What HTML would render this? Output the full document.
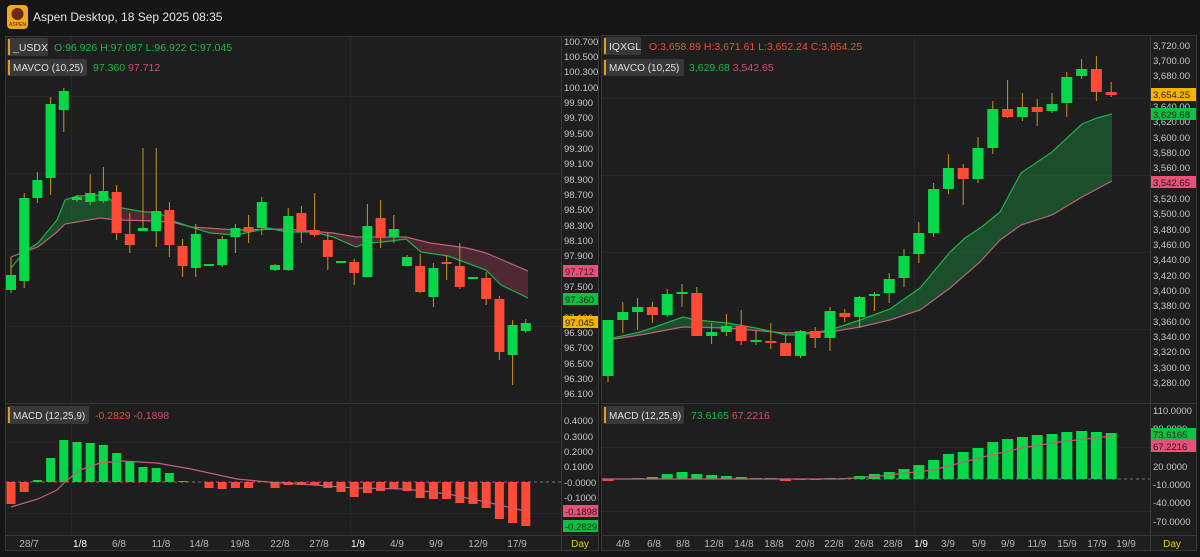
<!DOCTYPE html>
<html><head><meta charset="utf-8"><style>
html,body{margin:0;padding:0;background:#161616;width:1200px;height:557px;overflow:hidden}
svg{display:block}
text{font-family:"Liberation Sans",sans-serif}
</style></head><body>
<svg id="s" width="1200" height="557" xmlns="http://www.w3.org/2000/svg">
<rect x="0" y="0" width="1200" height="557" fill="#161616"/>
<rect x="7" y="5" width="21" height="24" rx="4" fill="#f2a81d"/>
<circle cx="17.5" cy="14" r="6" fill="#6b2a1a"/>
<text x="17.5" y="26" font-size="5" fill="#5a1a0a" text-anchor="middle">ASPEN</text>
<text x="33" y="21" font-size="12" fill="#e6e6e6">Aspen Desktop, 18 Sep 2025 08:35</text>
<rect x="5.5" y="36.5" width="593" height="514" fill="#1e1e1e" stroke="#383838"/>
<rect x="601.5" y="35.5" width="595" height="515" fill="#1e1e1e" stroke="#383838"/>
<g stroke="#383838" stroke-width="1">
<line x1="561.5" y1="36" x2="561.5" y2="551"/>
<line x1="6" y1="403.5" x2="598" y2="403.5"/>
<line x1="6" y1="535.5" x2="598" y2="535.5"/>
<line x1="1150.5" y1="36" x2="1150.5" y2="551"/>
<line x1="602" y1="403.5" x2="1196" y2="403.5"/>
<line x1="602" y1="535.5" x2="1196" y2="535.5"/>
</g>
<g stroke="#262626" stroke-width="1">
<line x1="71.5" y1="37" x2="71.5" y2="535"/><line x1="350.5" y1="37" x2="350.5" y2="535"/>
<line x1="914.5" y1="36" x2="914.5" y2="535"/>
<line x1="6" y1="96.5" x2="561" y2="96.5"/><line x1="6" y1="173.5" x2="561" y2="173.5"/>
<line x1="6" y1="249.5" x2="561" y2="249.5"/><line x1="6" y1="326.5" x2="561" y2="326.5"/>
<line x1="6" y1="442.5" x2="561" y2="442.5"/><line x1="6" y1="513.5" x2="561" y2="513.5"/>
<line x1="602" y1="98.5" x2="1150" y2="98.5"/><line x1="602" y1="175.5" x2="1150" y2="175.5"/>
<line x1="602" y1="252.5" x2="1150" y2="252.5"/><line x1="602" y1="329.5" x2="1150" y2="329.5"/>
<line x1="602" y1="447.5" x2="1150" y2="447.5"/><line x1="602" y1="511.5" x2="1150" y2="511.5"/>
</g>
<g id="plot"></g>
<g font-size="9.5" fill="#c8c8c8">
<text x="564" y="45">100.700</text><text x="564" y="60">100.500</text><text x="564" y="75">100.300</text><text x="564" y="91">100.100</text>
<text x="564" y="106">99.900</text><text x="564" y="121">99.700</text><text x="564" y="137">99.500</text><text x="564" y="152">99.300</text>
<text x="564" y="167">99.100</text><text x="564" y="183">98.900</text><text x="564" y="198">98.700</text><text x="564" y="213">98.500</text>
<text x="564" y="229">98.300</text><text x="564" y="244">98.100</text><text x="564" y="259">97.900</text><text x="564" y="275">97.700</text>
<text x="564" y="290">97.500</text><text x="564" y="305">97.300</text><text x="564" y="321">97.100</text><text x="564" y="336">96.900</text>
<text x="564" y="351">96.700</text><text x="564" y="367">96.500</text><text x="564" y="382">96.300</text><text x="564" y="397">96.100</text>
<text x="564" y="424">0.4000</text><text x="564" y="440">0.3000</text><text x="564" y="455">0.2000</text><text x="564" y="470">0.1000</text>
<text x="564" y="486">-0.0000</text><text x="564" y="501">-0.1000</text>
<text x="1153" y="49">3,720.00</text><text x="1153" y="64">3,700.00</text><text x="1153" y="79">3,680.00</text><text x="1153" y="95">3,660.00</text>
<text x="1153" y="110">3,640.00</text><text x="1153" y="125">3,620.00</text><text x="1153" y="141">3,600.00</text><text x="1153" y="156">3,580.00</text>
<text x="1153" y="171">3,560.00</text><text x="1153" y="187">3,540.00</text><text x="1153" y="202">3,520.00</text><text x="1153" y="217">3,500.00</text>
<text x="1153" y="233">3,480.00</text><text x="1153" y="248">3,460.00</text><text x="1153" y="263">3,440.00</text><text x="1153" y="279">3,420.00</text>
<text x="1153" y="294">3,400.00</text><text x="1153" y="309">3,380.00</text><text x="1153" y="325">3,360.00</text><text x="1153" y="340">3,340.00</text>
<text x="1153" y="355">3,320.00</text><text x="1153" y="371">3,300.00</text><text x="1153" y="386">3,280.00</text>
<text x="1153" y="414">110.0000</text><text x="1153" y="432">80.0000</text><text x="1153" y="470">20.0000</text>
<text x="1153" y="488">-10.0000</text><text x="1153" y="506">-40.0000</text><text x="1153" y="525">-70.0000</text>
</g>
<g font-size="9.5">
<rect x="563" y="265" width="35" height="12" fill="#e8507a"/><text x="565" y="275" fill="#1e1e1e">97.712</text>
<rect x="563" y="293" width="35" height="12" fill="#10c040"/><text x="565" y="303" fill="#1e1e1e">97.360</text>
<rect x="563" y="316" width="35" height="12" fill="#f5b400"/><text x="565" y="326" fill="#1e1e1e">97.045</text>
<rect x="563" y="505" width="35" height="12" fill="#e8507a"/><text x="565" y="515" fill="#1e1e1e">-0.1898</text>
<rect x="563" y="520" width="35" height="12" fill="#10c040"/><text x="565" y="530" fill="#1e1e1e">-0.2829</text>
<rect x="1151" y="88" width="45" height="13" fill="#f5b400"/><text x="1153" y="98" fill="#1e1e1e">3,654.25</text>
<rect x="1151" y="108" width="45" height="12" fill="#10c040"/><text x="1153" y="118" fill="#1e1e1e">3,629.68</text>
<rect x="1151" y="176" width="45" height="12" fill="#e8507a"/><text x="1153" y="186" fill="#1e1e1e">3,542.65</text>
<rect x="1151" y="428" width="45" height="12" fill="#10c040"/><text x="1153" y="438" fill="#1e1e1e">73.6165</text>
<rect x="1151" y="440" width="45" height="12" fill="#e8507a"/><text x="1153" y="450" fill="#1e1e1e">67.2216</text>
</g>
<g font-size="10" fill="#b8b8b8" text-anchor="middle">
<text x="29" y="547">28/7</text><text x="80" y="547" fill="#fff">1/8</text><text x="119" y="547">6/8</text><text x="161" y="547">11/8</text>
<text x="199" y="547">14/8</text><text x="240" y="547">19/8</text><text x="280" y="547">22/8</text><text x="319" y="547">27/8</text>
<text x="358" y="547" fill="#fff">1/9</text><text x="397" y="547">4/9</text><text x="436" y="547">9/9</text><text x="478" y="547">12/9</text>
<text x="517" y="547">17/9</text><text x="580" y="547" fill="#e8d000">Day</text>
<text x="623" y="547">4/8</text><text x="654" y="547">6/8</text><text x="683" y="547">8/8</text><text x="714" y="547">12/8</text>
<text x="744" y="547">14/8</text><text x="774" y="547">18/8</text><text x="805" y="547">20/8</text><text x="834" y="547">22/8</text>
<text x="864" y="547">26/8</text><text x="893" y="547">28/8</text><text x="921" y="547" fill="#fff">1/9</text><text x="948" y="547">3/9</text>
<text x="979" y="547">5/9</text><text x="1008" y="547">9/9</text><text x="1037" y="547">11/9</text><text x="1067" y="547">15/9</text>
<text x="1097" y="547">17/9</text><text x="1126" y="547">19/9</text><text x="1172" y="547" fill="#e8d000">Day</text>
</g>
<g font-size="10.5">
<rect x="7" y="38" width="41" height="18" rx="2" fill="#383838"/><rect x="8" y="39" width="2" height="16" fill="#e39a1a"/>
<text x="13" y="51" fill="#e0e0e0">_USDX</text>
<text x="54" y="51" fill="#1fb94a">O:96.926 H:97.087 L:96.922 C:97.045</text>
<rect x="7" y="59" width="80" height="17" rx="2" fill="#383838"/><rect x="8" y="60" width="2" height="15" fill="#e39a1a"/>
<text x="13" y="71" fill="#e0e0e0" font-size="10">MAVCO (10,25)</text>
<text x="93" y="71" fill="#1fb94a">97.360 <tspan fill="#d0506e">97.712</tspan></text>
<rect x="7" y="406" width="82" height="18" rx="2" fill="#383838"/><rect x="8" y="407" width="2" height="16" fill="#e39a1a"/>
<text x="13" y="419" fill="#e0e0e0" font-size="10">MACD (12,25,9)</text>
<text x="95" y="419" fill="#e8503a">-0.2829 <tspan fill="#d0506e">-0.1898</tspan></text>
<rect x="603" y="37" width="38" height="18" rx="2" fill="#383838"/><rect x="604" y="38" width="2" height="16" fill="#e39a1a"/>
<text x="609" y="50" fill="#e0e0e0">IQXGL</text>
<text x="649" y="50" fill="#e8503a">O:3,658.89 H:3,671.61 L:3,652.24 C:3,654.25</text>
<rect x="603" y="59" width="81" height="17" rx="2" fill="#383838"/><rect x="604" y="60" width="2" height="15" fill="#e39a1a"/>
<text x="609" y="71" fill="#e0e0e0" font-size="10">MAVCO (10,25)</text>
<text x="689" y="71" fill="#1fb94a">3,629.68 <tspan fill="#d0506e">3,542.65</tspan></text>
<rect x="603" y="406" width="81" height="18" rx="2" fill="#383838"/><rect x="604" y="407" width="2" height="16" fill="#e39a1a"/>
<text x="609" y="419" fill="#e0e0e0" font-size="10">MACD (12,25,9)</text>
<text x="691" y="419" fill="#1fb94a">73.6165 <tspan fill="#d0506e">67.2216</tspan></text>
</g>
</svg>
<script>
var NS="http://www.w3.org/2000/svg",P=document.getElementById("plot");
function el(t,a){var e=document.createElementNS(NS,t);for(var k in a)e.setAttribute(k,a[k]);P.appendChild(e);return e;}
var G="#06d84a",R="#ff4a38",W="#c8961e";
function pts(a){return a.map(function(p){return p[0]+","+p[1]}).join(" ");}
var lg=[[11,268],[24,252],[38,243],[57,220],[65,200],[77,196],[104,195],[122,208],[145,212],[157,212],[176,222],[191,227],[210,233],[237,235],[268,228],[287,232],[314,232],[333,237],[356,247],[367,243],[383,242],[406,239],[421,252],[448,256],[467,263],[486,270],[501,285],[528,298]];
var lp=[[11,257],[24,252],[38,247],[57,232],[65,224],[100,218],[117,220],[157,221],[176,223],[191,227],[237,230],[287,229],[333,233],[356,237],[406,237],[430,243],[467,248],[486,253],[528,271]];
function interp(a,x){for(var i=0;i<a.length-1;i++){if(x>=a[i][0]&&x<=a[i+1][0]){var t=(x-a[i][0])/(a[i+1][0]-a[i][0]);return a[i][1]+t*(a[i+1][1]-a[i][1]);}}return a[a.length-1][1];}
function fill(ga,pa,x0,x1,col){var top=[],bot=[];for(var x=x0;x<=x1;x+=2){top.push([x,interp(ga,x)]);bot.push([x,interp(pa,x)]);}el("polygon",{points:pts(top.concat(bot.reverse())),fill:col});}
fill(lg,lp,24,122,"rgba(30,170,70,0.35)");fill(lg,lp,122,528,"rgba(170,60,90,0.35)");
el("polyline",{points:pts(lp),fill:"none",stroke:"#c0607a","stroke-width":1.2});
el("polyline",{points:pts(lg),fill:"none",stroke:"#20b04a","stroke-width":1.2});
var L=[[275,290,257,293,'g'],[198,281,193,288,'g'],[180,198,172,203,'g'],[104,178,97,195,'g'],[91,110,88,132,'g'],[197,200,195,202,'g'],[193,202,174,205,'g'],[191,201,167,203,'g'],[192,233,185,240,'r'],[234,245,213,253,'r'],[228,231,148,231,'g'],[211,231,148,247,'g'],[210,245,202,257,'r'],[246,266,239,277,'r'],[234,268,224,277,'g'],[264,266,264,266,'g'],[239,265,236,267,'g'],[228,237,224,253,'g'],[227,232,215,243,'r'],[202,228,197,235,'g'],[265,270,264,271,'g'],[216,270,208,271,'g'],[213,232,206,243,'r'],[230,235,193,237,'r'],[240,257,233,270,'r'],[261,262,261,262,'g'],[262,273,259,285,'r'],[226,277,204,277,'g'],[218,238,200,248,'r'],[229,237,215,243,'g'],[257,266,255,266,'g'],[266,292,254,293,'r'],[268,297,263,307,'g'],[262,264,255,280,'r'],[266,287,243,289,'r'],[277,278,277,278,'g'],[278,299,272,305,'r'],[299,352,296,360,'r'],[325,355,320,385,'g'],[323,331,319,333,'g']];
function candles(arr,x0,dx,w){arr.forEach(function(c,i){var x=x0+dx*i;el("line",{x1:x,x2:x,y1:c[2],y2:c[3],stroke:W,"stroke-width":1});var h=Math.max(2,c[1]-c[0]);el("rect",{x:x-w/2,y:c[0],width:w,height:h,fill:c[4]=='g'?G:R});});}
candles(L,11,13.2,10);
el("line",{x1:6,x2:561,y1:482,y2:482,stroke:"#777","stroke-dasharray":"3,3"});
var LM=[504,492,480,458,440,442,443,445,453,462,467,468,473,481,482,488,489,488,488,481,488,485,485,485,488,492,497,493,491,489,491,498,499,499,503,504,508,519,523,526];
function bars(arr,x0,dx,w,z){arr.forEach(function(v,i){var x=x0+dx*i;if(Math.abs(v-z)<0.5)return;el("rect",{x:x-w/2,y:Math.min(v,z),width:w,height:Math.abs(v-z),fill:v<z?G:R});});}
bars(LM,11,13.2,9,482);
el("polyline",{points:pts([[11,507],[38,499],[57,490],[65,482],[80,470],[100,463],[122,461],[157,463],[191,469],[237,479],[268,482],[314,485],[356,488],[406,489],[448,494],[486,502],[513,508],[528,512]]),fill:"none",stroke:"#c0607a","stroke-width":1.2});
var rg=[[608,339],[640,332],[652,328],[683,317],[697,320],[727,323],[756,328],[786,335],[801,335],[830,330],[860,320],[890,309],[920,288],[950,252],[965,238],[983,226],[1000,212],[1021,173],[1052,152],[1082,124],[1097,118],[1112,114]];
var rp=[[608,340],[640,335],[683,327],[727,328],[786,333],[830,332],[860,327],[890,320],[920,310],[950,288],[980,262],[1000,240],[1021,225],[1052,215],[1082,197],[1112,181]];
fill(rg,rp,608,1112,"rgba(30,170,70,0.35)");
el("polyline",{points:pts(rp),fill:"none",stroke:"#c0607a","stroke-width":1.2});
el("polyline",{points:pts(rg),fill:"none",stroke:"#20b04a","stroke-width":1.2});
var Rc=[[320,376,320,382,'g'],[312,320,302,333,'g'],[307,312,298,330,'g'],[307,315,302,323,'r'],[294,315,289,317,'g'],[292,293,284,307,'g'],[293,336,287,336,'r'],[332,336,323,344,'g'],[326,332,314,336,'g'],[326,341,310,345,'r'],[340,342,330,345,'g'],[341,343,323,349,'r'],[343,356,335,356,'r'],[331,356,330,358,'g'],[331,338,327,348,'r'],[311,338,307,351,'g'],[313,317,309,322,'r'],[297,317,296,328,'g'],[294,296,292,311,'g'],[279,293,273,303,'g'],[256,278,249,287,'g'],[233,254,222,263,'g'],[189,233,183,237,'g'],[168,189,154,194,'g'],[168,179,164,205,'r'],[148,179,137,183,'g'],[109,148,101,154,'g'],[109,117,80,118,'r'],[107,117,93,121,'g'],[107,112,99,126,'r'],[104,111,93,113,'g'],[77,103,72,117,'g'],[69,76,59,79,'g'],[69,92,56,101,'r'],[92,95,82,97,'r']];
candles(Rc,608,14.8,11);
el("line",{x1:602,x2:1150,y1:479,y2:479,stroke:"#777","stroke-dasharray":"3,3"});
var RM=[481,479,478,477,474,472,474,475,476,477,478,478,481,480,480,478,478,476,474,472,469,465,460,454,452,448,442,439,437,435,434,432,431,432,433];
bars(RM,608,14.8,11,479);
el("polyline",{points:pts([[602,479],[840,479],[880,476],[933,470],[983,457],[1021,448],[1059,442],[1112,436]]),fill:"none",stroke:"#c0607a","stroke-width":1.2});
</script>
</body></html>
